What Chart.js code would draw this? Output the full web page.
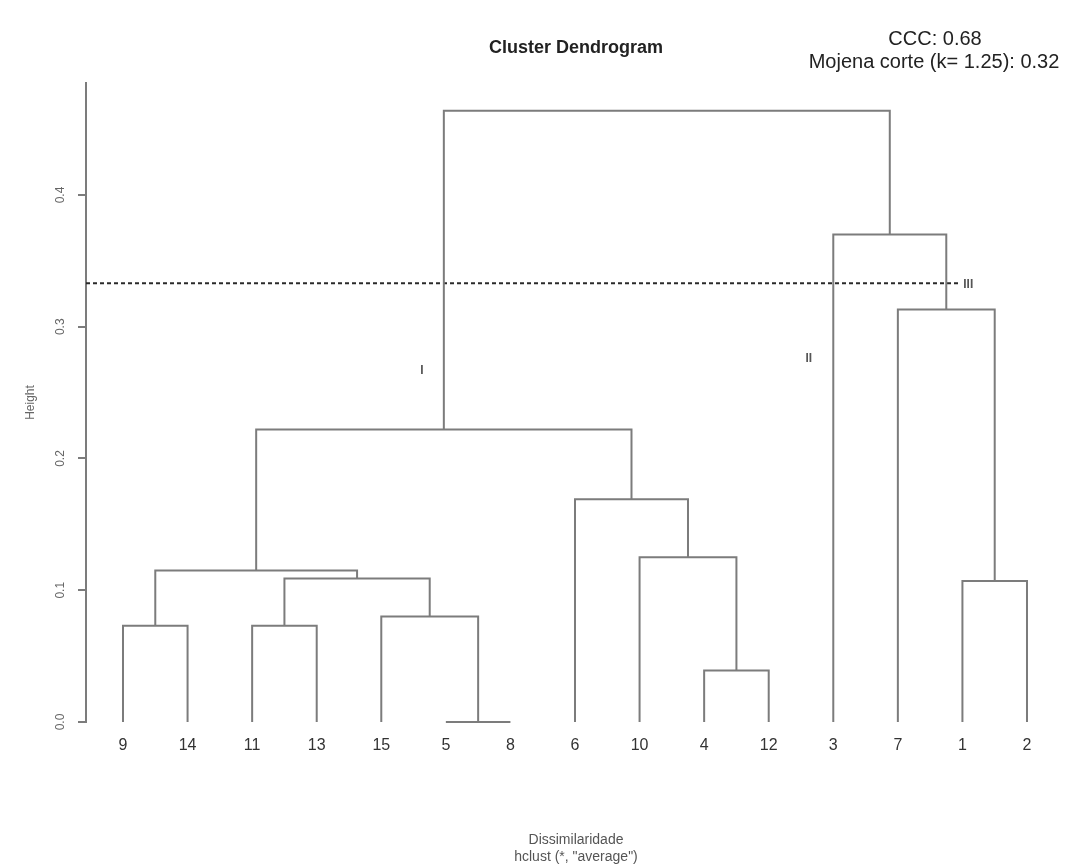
<!DOCTYPE html>
<html><head><meta charset="utf-8">
<script src="https://cdn.jsdelivr.net/npm/chart.js@4"></script>
<style>html,body{margin:0;padding:0;background:#fff}#wrap{width:1066px;height:867px}</style>
</head><body><div id="wrap"><canvas id="c" width="1066" height="867"></canvas></div>
<script>
// ---- data ----
const leafOrder   = [9,14,11,13,15,5,8,6,10,4,12,3,7,1,2];
// hclust-style merge table: negative = leaf id, positive = earlier merge (1-based)
const mergeLeft   = [-5,-4,-9,-11,-15,-1, 4, 3,-10,-6, 8,-7,-3,11];
const mergeRight  = [-8,-12,-14,-13, 1,-2, 5, 7,  2, 9,10, 6,12,13];
const mergeHeight = [0.000,0.039,0.073,0.073,0.080,0.107,0.109,0.115,0.125,0.169,0.222,0.313,0.370,0.464];
const yTicks      = [0.0,0.1,0.2,0.3,0.4];
const cutHeight   = 0.333;
const groupLabels = ['I','II','III'];
const statLines   = ['CCC: 0.68','Mojena corte (k= 1.25): 0.32'];

// ---- build dendrogram segments from the merge table ----
const nodes = [];
function nodePos(ref){ return ref < 0 ? {x: leafOrder.indexOf(-ref) + 1, y: 0} : nodes[ref - 1]; }
const segs = [];
for (let i = 0; i < mergeHeight.length; i++) {
  const a = nodePos(mergeLeft[i]), b = nodePos(mergeRight[i]), h = mergeHeight[i];
  nodes.push({x: (a.x + b.x) / 2, y: h});
  segs.push([{x:a.x,y:a.y},{x:a.x,y:h},{x:b.x,y:h},{x:b.x,y:b.y}]);
}

const X_MIN = 0.427, X_MAX = 15.604;
const datasets = segs.map(s => ({
  data: s, showLine: true, borderColor: '#7c7c7c', borderWidth: 2,
  pointRadius: 0, pointHoverRadius: 0, fill: false, tension: 0, clip: false
}));
datasets.push({
  data: [{x: X_MIN, y: cutHeight}, {x: 13.96, y: cutHeight}],
  showLine: true, borderColor: '#2a2a2a', borderWidth: 2, borderDash: [4, 3],
  pointRadius: 0, pointHoverRadius: 0, fill: false, clip: false
});

const annot = {
  id: 'annot',
  afterDraw(chart) {
    const ctx = chart.ctx, xs = chart.scales.x, ys = chart.scales.y;
    ctx.save();
    ctx.fillStyle = '#222';
    ctx.font = '20px "Liberation Sans", Arial, sans-serif';
    ctx.textAlign = 'center'; ctx.textBaseline = 'middle';
    ctx.fillText(statLines[0], 935, 39);
    ctx.fillText(statLines[1], 934, 62);
    const pos = [[5.63, 0.267], [11.62, 0.2755], [14.09, 0.332]];
    ctx.fillStyle = '#555';
    ctx.font = 'bold 12px "Liberation Sans", Arial, sans-serif';
    groupLabels.forEach((t, i) => ctx.fillText(t, xs.getPixelForValue(pos[i][0]), ys.getPixelForValue(pos[i][1])));
    ctx.restore();
  }
};

new Chart(document.getElementById('c'), {
  type: 'scatter',
  data: { datasets },
  plugins: [annot],
  options: {
    responsive: false, animation: false, devicePixelRatio: 1,
    layout: { padding: { left: 0, right: 0, top: 0, bottom: 0 } },
    plugins: {
      legend: { display: false }, tooltip: { enabled: false },
      title: {
        display: true, text: 'Cluster Dendrogram', fullSize: false, color: '#222',
        font: { family: '"Liberation Sans", Arial, sans-serif', size: 18, weight: 'bold', lineHeight: 1.2 },
        padding: { top: 37.6, bottom: 23.8 }
      }
    },
    scales: {
      x: {
        type: 'linear', min: X_MIN, max: X_MAX,
        afterBuildTicks: s => { s.ticks = leafOrder.map((_, i) => ({ value: i + 1 })); },
        afterFit: s => { s.height = 145; },
        grid: { display: false, drawTicks: false }, border: { display: false },
        ticks: {
          autoSkip: false, maxRotation: 0, minRotation: 0, padding: 14, color: '#333',
          font: { family: '"Liberation Sans", Arial, sans-serif', size: 16 },
          callback: v => String(leafOrder[Math.round(v) - 1])
        },
        title: {
          display: true, text: ['Dissimilaridade', 'hclust (*, "average")'], color: '#555',
          font: { family: '"Liberation Sans", Arial, sans-serif', size: 14, lineHeight: 1.25 },
          padding: { top: 0, bottom: 1 }
        }
      },
      y: {
        type: 'linear', min: 0, max: 0.485,
        afterBuildTicks: s => { s.ticks = yTicks.map(v => ({ value: v })); },
        afterFit: s => { s.width = 86; },
        grid: { drawOnChartArea: false, drawTicks: true, tickLength: 8, color: '#7c7c7c', lineWidth: 2 },
        border: { display: true, color: '#7c7c7c', width: 2 },
        ticks: {
          minRotation: 90, maxRotation: 90, crossAlign: 'center', padding: 9, color: '#666',
          font: { family: '"Liberation Sans", Arial, sans-serif', size: 12 },
          callback: v => Number(v).toFixed(1)
        },
        title: {
          display: true, text: 'Height', color: '#666',
          font: { family: '"Liberation Sans", Arial, sans-serif', size: 12 },
          padding: { top: 23, bottom: 0 }
        }
      }
    }
  }
});
</script>
</body></html>
